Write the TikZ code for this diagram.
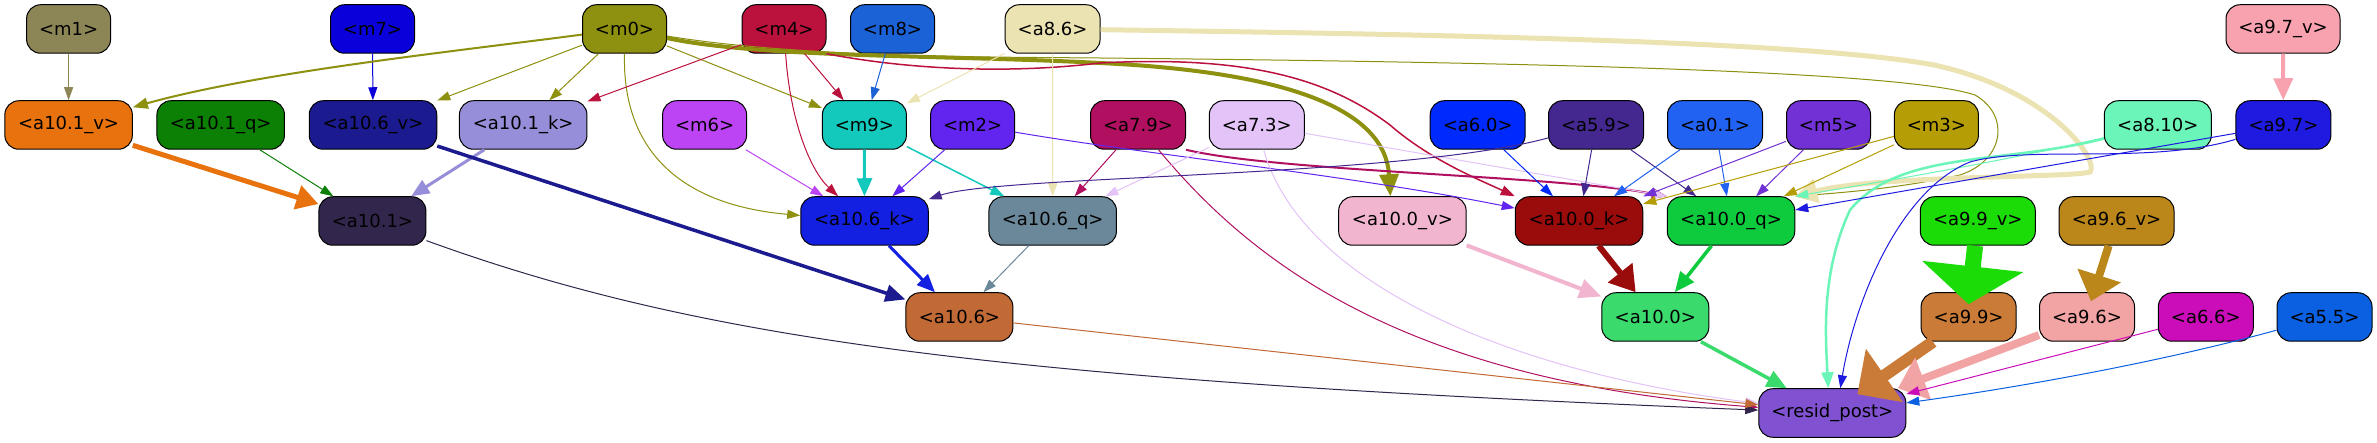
\documentclass[tikz,border=0pt]{standalone}
\usepackage{fontspec}
\setmainfont{DejaVu Sans}
\usetikzlibrary{arrows.meta}
\definecolor{cm1}{HTML}{8C8656}
\definecolor{cm7}{HTML}{0A00DA}
\definecolor{cm0}{HTML}{8E9010}
\definecolor{cm4}{HTML}{BB123D}
\definecolor{cm8}{HTML}{1A62D6}
\definecolor{ca86}{HTML}{ECE3B2}
\definecolor{ca97v}{HTML}{F8A2AF}
\definecolor{ca101v}{HTML}{E8730E}
\definecolor{ca101q}{HTML}{0B8005}
\definecolor{ca106v}{HTML}{1B1A8E}
\definecolor{ca101k}{HTML}{968ED8}
\definecolor{cm6}{HTML}{BC44F5}
\definecolor{cm9}{HTML}{13C9BC}
\definecolor{cm2}{HTML}{6225F0}
\definecolor{ca79}{HTML}{B11060}
\definecolor{ca73}{HTML}{E3C3F8}
\definecolor{ca60}{HTML}{0029FB}
\definecolor{ca59}{HTML}{44288F}
\definecolor{ca01}{HTML}{2262F2}
\definecolor{cm5}{HTML}{7231D5}
\definecolor{cm3}{HTML}{B59E05}
\definecolor{ca810}{HTML}{6BF5B8}
\definecolor{ca97}{HTML}{1E1AE0}
\definecolor{ca101}{HTML}{32264C}
\definecolor{ca106k}{HTML}{1320E2}
\definecolor{ca106q}{HTML}{6A889A}
\definecolor{ca100v}{HTML}{F2B5CF}
\definecolor{ca100k}{HTML}{9A0C0C}
\definecolor{ca100q}{HTML}{0ECB3E}
\definecolor{ca99v}{HTML}{1BDC07}
\definecolor{ca96v}{HTML}{BB861A}
\definecolor{ca106}{HTML}{C16A35}
\definecolor{ca100}{HTML}{3BDA6D}
\definecolor{ca99}{HTML}{C97B37}
\definecolor{ca96}{HTML}{F2A3A4}
\definecolor{ca66}{HTML}{CB0DB9}
\definecolor{ca55}{HTML}{0A60E0}
\definecolor{crp}{HTML}{8052D1}
\begin{document}
\begin{tikzpicture}[x=1pt,y=-1pt,
  nd/.style={draw=black, line width=1pt, rounded corners=14pt, minimum height=48.5pt, inner sep=0pt, font=\fontsize{18}{21}\selectfont, text=black},
  wm/.style={minimum width=84pt},
  ws/.style={minimum width=95pt},
  wd/.style={minimum width=107pt},
  wl/.style={minimum width=127.5pt},
  wv/.style={minimum width=115pt},
  wr/.style={minimum width=147pt},
  e/.style={line width=1pt,-{Triangle[length=13pt,width=9pt]}},
  e15/.style={line width=1.5pt,-{Triangle[length=14pt,width=10pt]}},
  e2/.style={line width=2pt,-{Triangle[length=15pt,width=11pt]}},
  e25/.style={line width=2.5pt,-{Triangle[length=16pt,width=12pt]}},
  e3/.style={line width=3pt,-{Triangle[length=18pt,width=15pt]}},
  e35/.style={line width=3.5pt,-{Triangle[length=20pt,width=17pt]}},
  e4/.style={line width=4pt,-{Triangle[length=22pt,width=19pt]}},
  e5/.style={line width=5pt,-{Triangle[length=22pt,width=24pt]}},
  e6/.style={line width=6pt,-{Triangle[length=25pt,width=30pt]}},
  e8/.style={line width=8pt,-{Triangle[length=27pt,width=44pt]}},
  e12/.style={line width=12pt,-{Triangle[length=33pt,width=63pt]}},
  e16/.style={line width=16pt,-{Triangle[length=38pt,width=100pt]}}
]
\useasboundingbox (0,0) rectangle (2377,443);
\fill[white] (0,0) rectangle (2377,443);
% row 1
\node[nd,wm,fill=cm1] (m1) at (68.6,29) {<m1>};
\node[nd,wm,fill=cm7] (m7) at (372.5,29) {<m7>};
\node[nd,wm,fill=cm0] (m0) at (624.5,29) {<m0>};
\node[nd,wm,fill=cm4] (m4) at (784,29) {<m4>};
\node[nd,wm,fill=cm8] (m8) at (892.5,29) {<m8>};
\node[nd,ws,fill=ca86] (a86) at (1052.6,29) {<a8.6>};
\node[nd,minimum width=114pt,fill=ca97v] (a97v) at (2283,29) {<a9.7\_v>};
% row 2
\node[nd,wl,fill=ca101v] (a101v) at (68.6,125) {<a10.1\_v>};
\node[nd,wl,fill=ca101q] (a101q) at (220.7,125) {<a10.1\_q>};
\node[nd,wl,fill=ca106v] (a106v) at (373,125) {<a10.6\_v>};
\node[nd,wl,fill=ca101k] (a101k) at (523.2,125) {<a10.1\_k>};
\node[nd,wm,fill=cm6] (m6) at (704.6,125) {<m6>};
\node[nd,wm,fill=cm9] (m9) at (864.4,125) {<m9>};
\node[nd,wm,fill=cm2] (m2) at (972.6,125) {<m2>};
\node[nd,ws,fill=ca79] (a79) at (1138,125) {<a7.9>};
\node[nd,ws,fill=ca73] (a73) at (1256.8,125) {<a7.3>};
\node[nd,ws,fill=ca60] (a60) at (1477.7,125) {<a6.0>};
\node[nd,ws,fill=ca59] (a59) at (1596,125) {<a5.9>};
\node[nd,ws,fill=ca01] (a01) at (1715,125) {<a0.1>};
\node[nd,wm,fill=cm5] (m5) at (1828.5,125) {<m5>};
\node[nd,wm,fill=cm3] (m3) at (1936.4,125) {<m3>};
\node[nd,wd,fill=ca810] (a810) at (2157.8,125) {<a8.10>};
\node[nd,ws,fill=ca97] (a97) at (2283.4,125) {<a9.7>};
% row 3
\node[nd,wd,fill=ca101] (a101) at (372.4,221) {<a10.1>};
\node[nd,wl,fill=ca106k] (a106k) at (864.5,221) {<a10.6\_k>};
\node[nd,wl,fill=ca106q] (a106q) at (1052.7,221) {<a10.6\_q>};
\node[nd,wl,fill=ca100v] (a100v) at (1402.4,221) {<a10.0\_v>};
\node[nd,wl,fill=ca100k] (a100k) at (1579,221) {<a10.0\_k>};
\node[nd,wl,fill=ca100q] (a100q) at (1731,221) {<a10.0\_q>};
\node[nd,wv,fill=ca99v] (a99v) at (1977.8,221) {<a9.9\_v>};
\node[nd,wv,fill=ca96v] (a96v) at (2116.5,221) {<a9.6\_v>};
% row 4
\node[nd,wd,fill=ca106] (a106) at (959.4,317) {<a10.6>};
\node[nd,wd,fill=ca100] (a100) at (1655.3,317) {<a10.0>};
\node[nd,ws,fill=ca99] (a99) at (1968.6,317) {<a9.9>};
\node[nd,ws,fill=ca96] (a96) at (2087,317) {<a9.6>};
\node[nd,ws,fill=ca66] (a66) at (2205.8,317) {<a6.6>};
\node[nd,ws,fill=ca55] (a55) at (2324.5,317) {<a5.5>};
% row 5
\node[nd,wr,fill=crp] (rp) at (1832.3,413) {<resid\_post>};
% edges
\draw[e,cm1] (m1) -- (a101v);
\draw[e,cm7] (m7) -- (a106v);
\draw[e2,cm0] (m0) .. controls (450,52) and (260,72) .. (a101v);
\draw[e,cm0] (m0) -- (a106v);
\draw[e,cm0] (m0) -- (a101k);
\draw[e,cm0] (m0) -- (m9);
\draw[e,cm0] (m0.south) .. controls (622,150) and (680,205) .. (a106k);
\draw[e4,cm0] (m0) .. controls (760,58) and (950,55) .. (1100,63) .. controls (1290,72) and (1385,110) .. ([xshift=-12pt]a100v.north);
\draw[e,cm0] (m0) .. controls (800,58) and (1000,57) .. (1100,58) .. controls (1500,62) and (1900,70) .. (1975,95) .. controls (2010,115) and (2005,160) .. (1960,175) .. controls (1900,188) and (1850,192) .. (a100q.north east);
\draw[e,cm4] (m4) -- (a101k);
\draw[e,cm4] (m4) -- (m9);
\draw[e,cm4] (m4) .. controls (790,120) and (810,170) .. (a106k);
\draw[e15,cm4] (m4.south east) .. controls (900,68) and (1000,75) .. (1100,63) .. controls (1250,55) and (1330,80) .. (1390,125) .. controls (1430,160) and (1480,180) .. (a100k.north west);
\draw[e,cm8] (m8) -- (m9);
\draw[e,ca86] (a86) -- (m9);
\draw[e,ca86] (a86) -- (a106q);
\draw[e5,ca86] (a86) .. controls (1400,34) and (1800,40) .. (1934,65) .. controls (2050,90) and (2100,160) .. (2090,172) .. controls (2070,178) and (1880,175) .. (a100q.north east);
\draw[e3,cm9] (m9) -- (a106k);
\draw[e15,cm9] (m9) -- (a106q);
\draw[e,cm6] (m6) -- (a106k);
\draw[e,cm2] (m2) -- (a106k);
\draw[e,cm2] (m2) .. controls (1150,155) and (1350,175) .. (a100k);
\draw[e,ca79] (a79) -- (a106q);
\draw[e,ca79] (a79) .. controls (1250,260) and (1400,380) .. (rp);
\draw[e2,ca79] (a79.south east) .. controls (1280,172) and (1550,175) .. (a100q.north west);
\draw[e,ca73] (a73) -- (a106q);
\draw[e,ca73] (a73) .. controls (1300,280) and (1500,370) .. (rp);
\draw[e,ca73] (a73) -- (a100q.north west);
\draw[e,ca60] (a60) -- (a100k);
\draw[e,ca59] (a59) .. controls (1400,178) and (1000,175) .. (a106k);
\draw[e,ca59] (a59) -- (a100k);
\draw[e,ca59] (a59) -- (a100q);
\draw[e,ca01] (a01) -- (a100k);
\draw[e,ca01] (a01) -- (a100q);
\draw[e,cm5] (m5) -- (a100k);
\draw[e,cm5] (m5) -- (a100q);
\draw[e,cm3] (m3) -- (a100k);
\draw[e,cm3] (m3) -- (a100q);
\draw[e25,ca810] (a810) .. controls (2000,165) and (1900,150) .. (1850,210) .. controls (1822,270) and (1825,330) .. ([xshift=-4pt]rp.north);
\draw[e,ca810] (a810) .. controls (2000,162) and (1880,182) .. (a100q.north east);
\draw[e,ca97] (a97) -- (a100q);
\draw[e,ca97] (a97) .. controls (2150,165) and (2030,145) .. (1970,162) .. controls (1900,190) and (1855,300) .. ([xshift=8pt]rp.north);
\draw[e4,ca97v] (a97v) -- (a97);
\draw[e5,ca101v] (a101v) -- (a101);
\draw[e,ca101q] (a101q) -- (a101);
\draw[e3,ca101k] (a101k) -- (a101);
\draw[e35,ca106v] (a106v) -- (a106);
\draw[e3,ca106k] (a106k) -- (a106);
\draw[e,ca106q] (a106q) -- (a106);
\draw[e,ca101] (a101) .. controls (700,340) and (1000,380) .. (rp);
\draw[e,ca106] (a106) -- (rp);
\draw[e4,ca100v] (a100v) -- (a100);
\draw[e6,ca100k] (a100k) -- (a100);
\draw[e35,ca100q] (a100q) -- (a100);
\draw[e35,ca100] (a100) -- (rp);
\draw[e16,ca99v] (a99v) -- ([yshift=-12pt]a99.north);
\draw[e8,ca96v] (a96v) -- ([xshift=4pt,yshift=-9pt]a96.north);
\draw[e12,ca99] (a99) -- ([xshift=25pt,yshift=-6pt]rp.north);
\draw[e8,ca96] (a96) -- (rp);
\draw[e,ca66] (a66) -- (rp);
\draw[e,ca55] (a55) .. controls (2150,365) and (2000,390) .. (rp);
\end{tikzpicture}
\end{document}
